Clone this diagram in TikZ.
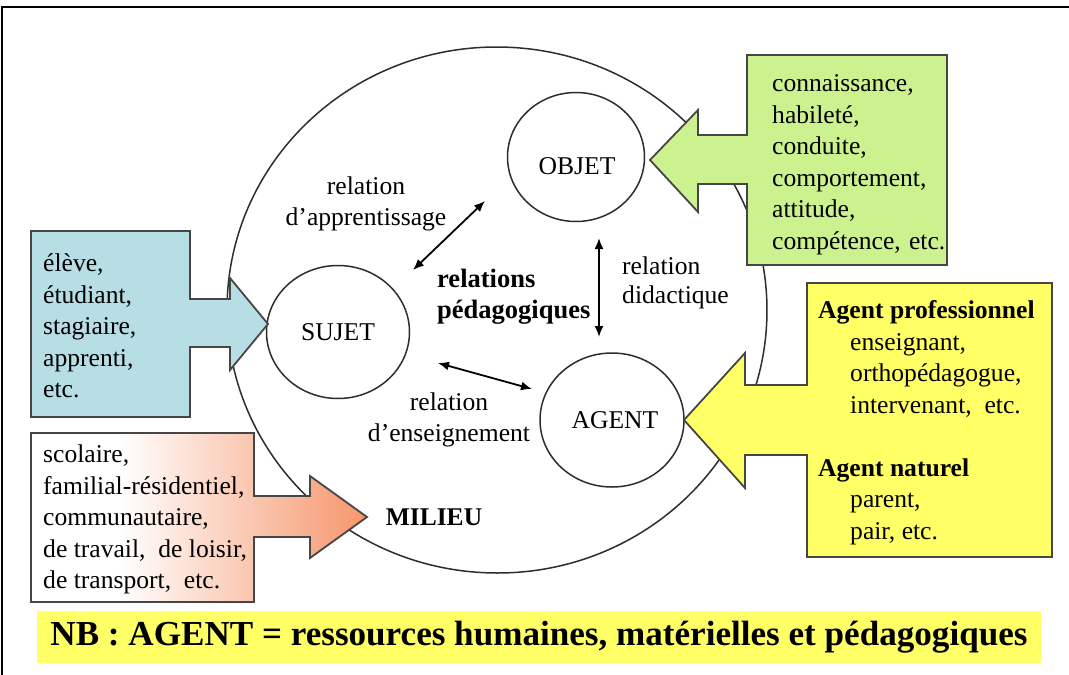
\documentclass[tikz,border=0pt]{standalone}
\usepackage{fontspec}
\setmainfont{Liberation Serif}
\usetikzlibrary{shapes.geometric,arrows.meta}

\definecolor{aquafill}{RGB}{183,222,228}
\definecolor{limefill}{RGB}{204,242,143}
\definecolor{lemonfill}{RGB}{255,255,102}
\definecolor{salmonfill}{RGB}{246,150,108}
\definecolor{calloutedge}{RGB}{70,70,70}
\definecolor{inkline}{RGB}{45,45,45}

% white on the left, fading into salmon towards the arrow head
\pgfdeclarehorizontalshading{milieufade}{100bp}{color(0bp)=(white); color(38bp)=(white); color(75bp)=(salmonfill); color(100bp)=(salmonfill)}

\begin{document}
\begin{tikzpicture}[x=1pt,y=-1pt,
  callout/.style={draw=calloutedge,line width=1.8pt,line join=miter},
  ring/.style={draw=inkline,line width=1.5pt,ellipse,inner sep=0pt},
  txt/.style={font=\fontsize{25.6}{31.5}\selectfont,inner sep=0pt,text=black},
  boldtxt/.style={txt,font=\fontsize{26.5}{31}\selectfont\bfseries},
  listtxt/.style={txt,align=left,anchor=west},
  rel/.style={{Latex[length=11pt,width=9pt]}-{Latex[length=11pt,width=9pt]},line width=1.8pt,draw=black}
]
\useasboundingbox (0,0) rectangle (1069,675);
\fill[white] (0,0) rectangle (1069,675);
% frame
\draw[line width=2.4pt] (2.2,675) -- (2.2,7) -- (1069,7);

% the surrounding milieu and the three poles
\node[ring,minimum width=540pt,minimum height=526pt,rotate=-1.5] (milieu) at (497,310) {};
\node[ring,minimum width=137pt,minimum height=129pt] (objet) at (576,157) {};
\node[ring,minimum width=143pt,minimum height=133pt] (sujet) at (338,332) {};
\node[ring,minimum width=144pt,minimum height=134pt] (agent) at (612,420) {};

\node[txt] (objetlbl) at (577,166) {OBJET};
\node[txt] (sujetlbl) at (338,332) {SUJET};
\node[txt] (agentlbl) at (615,420) {AGENT};
\node[boldtxt,font=\fontsize{25.5}{31}\selectfont\bfseries] (milieulbl) at (434,517) {MILIEU};

% relations
\coordinate (appA) at (413,270);
\coordinate (appB) at (485,201);
\coordinate (didA) at (599,238);
\coordinate (didB) at (599,337);
\coordinate (ensA) at (438,363);
\coordinate (ensB) at (532,389);
\draw[rel] (appA) -- (appB);
\draw[rel] (didA) -- (didB);
\draw[rel] (ensA) -- (ensB);

\node[txt,align=center] (applbl) at (366,204) {relation\\d’apprentissage};
\node[txt,align=center] (enslbl) at (449,420) {relation\\d’enseignement};
\node[txt,align=left,anchor=west,font=\fontsize{25.6}{29}\selectfont] (didlbl) at (622,283) {relation\\didactique};
\node[boldtxt,align=left,anchor=west] (pedlbl) at (437,297) {relations\\pédagogiques};

% callout arrows
\draw[callout,fill=aquafill] (31,231) -- (190,231) -- (190,299) -- (230,299) -- (230,278) -- (268,324)
  -- (230,370) -- (230,347) -- (190,347) -- (190,417) -- (31,417) -- cycle;
\draw[callout,fill=limefill] (947,55) -- (947,265) -- (747,265) -- (747,184) -- (698,184) -- (698,212)
  -- (650,160) -- (698,110) -- (698,135) -- (747,135) -- (747,55) -- cycle;
\draw[callout,fill=lemonfill] (1052,283) -- (1052,557) -- (807,557) -- (807,455) -- (745,455) -- (745,488)
  -- (684,420) -- (745,353) -- (745,385) -- (807,385) -- (807,283) -- cycle;
\draw[callout,shade,shading=milieufade] (31,433) -- (254,433) -- (254,496) -- (310,496) -- (310,476)
  -- (367,517) -- (310,558) -- (310,537) -- (254,537) -- (254,602) -- (31,602) -- cycle;

\node[listtxt] (sujetlist) at (43,326) {élève,\\étudiant,\\stagiaire,\\apprenti,\\etc.};
\node[listtxt] (objetlist) at (772,164.5) {connaissance,\\habileté,\\conduite,\\comportement,\\attitude,\\compétence,\hspace{0.32em}etc.};
\node[listtxt] (milieulist) at (43,519.5) {scolaire,\\familial-résidentiel,\\communautaire,\\de travail,~ de loisir,\\de transport,~ etc.};
\node[listtxt] (agentlist) at (818,422.5) {\textbf{Agent professionnel}\\
  \hspace*{32pt}enseignant,\\\hspace*{32pt}orthopédagogue,\\\hspace*{32pt}intervenant,~ etc.\\[31.5pt]
  \textbf{Agent naturel}\\\hspace*{32pt}parent,\\\hspace*{32pt}pair, etc.};

% note bar
\node[fill=lemonfill,inner sep=0pt,minimum width=1004pt,minimum height=52pt,
  font=\fontsize{35.1}{40}\selectfont\bfseries] (nbbar) at (539,637)
  {NB : AGENT = ressources humaines, matérielles et pédagogiques};
\end{tikzpicture}
\end{document}
